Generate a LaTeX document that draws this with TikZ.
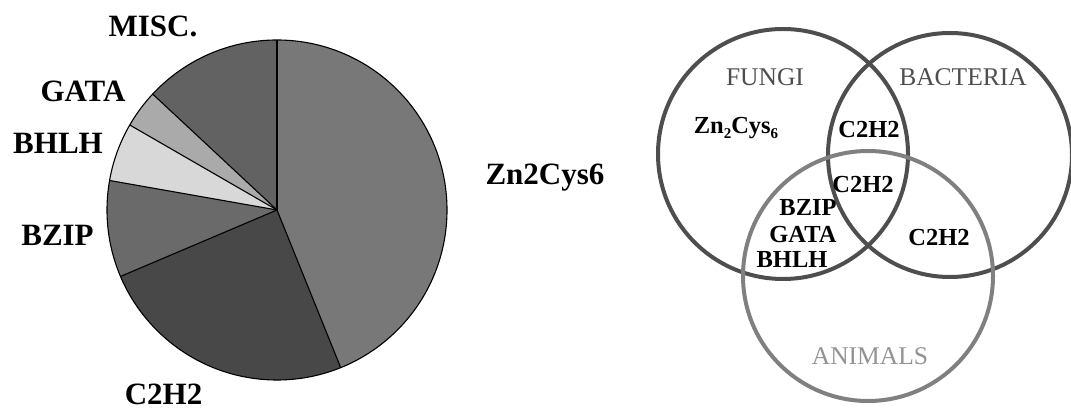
\documentclass[tikz,border=0pt]{standalone}
\usepackage{fontspec}
\setmainfont{Liberation Serif}
\definecolor{zncol}{RGB}{120,120,120}
\definecolor{misccol}{RGB}{98,98,98}
\definecolor{gatacol}{RGB}{170,170,170}
\definecolor{bhlhcol}{RGB}{216,216,216}
\definecolor{bzipcol}{RGB}{106,106,106}
\definecolor{ctwocol}{RGB}{72,72,72}
\definecolor{ringdark}{RGB}{78,78,78}
\definecolor{ringlight}{RGB}{128,128,128}
\newcommand{\lowsub}[1]{\raisebox{-0.38ex}{\fontsize{15}{15}\selectfont #1}}
\tikzset{
    pielabel/.style={anchor=base, inner sep=0pt, font=\fontsize{31}{36}\selectfont\bfseries},
    vennlabel/.style={anchor=base, inner sep=0pt, font=\fontsize{24.5}{28}\selectfont\bfseries},
    setlabel/.style={anchor=base, inner sep=0pt, font=\fontsize{25.5}{30}\selectfont},
    slice/.style={draw=black, line width=1.1pt, line join=round}
}
\begin{document}
\begin{tikzpicture}[x=1pt, y=1pt]
    \useasboundingbox (0, 0) rectangle (1071, 412);

    % pie chart
    \coordinate (pc) at (277, 202);
    \fill[zncol] (pc) -- ++(-68:170) arc (-68:90:170) -- cycle;
    \fill[misccol] (pc) -- ++(90:170) arc (90:137:170) -- cycle;
    \fill[gatacol] (pc) -- ++(137:170) arc (137:150:170) -- cycle;
    \fill[bhlhcol] (pc) -- ++(150:170) arc (150:170:170) -- cycle;
    \fill[bzipcol] (pc) -- ++(170:170) arc (170:203:170) -- cycle;
    \fill[ctwocol] (pc) -- ++(203:170) arc (203:292:170) -- cycle;
    \draw[slice] (pc) circle (170);
    \draw[slice] (pc) -- ++(90:170);
    \draw[slice] (pc) -- ++(137:170);
    \draw[slice] (pc) -- ++(150:170);
    \draw[slice] (pc) -- ++(170:170);
    \draw[slice] (pc) -- ++(203:170);
    \draw[slice] (pc) -- ++(-68:170);

    \node[pielabel] (misc) at (153, 375) {MISC.};
    \node[pielabel] (gata) at (83, 310) {GATA};
    \node[pielabel] (bhlh) at (58, 258) {BHLH};
    \node[pielabel] (bzip) at (57.5, 166) {BZIP};
    \node[pielabel] (ctwo) at (163.5, 7) {C2H2};
    \node[pielabel] (zn) at (545, 227) {Zn2Cys6};

    % venn diagram
    \coordinate (fungi) at (783, 258);
    \coordinate (bacteria) at (950, 257);
    \coordinate (animals) at (868, 136);
    \draw[ringdark, line width=4pt] (fungi) circle (125);
    \draw[ringdark, line width=4pt] (bacteria) circle (122);
    \draw[ringlight, line width=4pt] (animals) circle (125);

    \node[setlabel, text=ringdark] (fungilab) at (765, 326) {FUNGI};
    \node[setlabel, text=ringdark] (bactlab) at (963, 326) {BACTERIA};
    \node[setlabel, text=ringlight!85] (animlab) at (870, 47) {ANIMALS};

    \node[vennlabel] (vzn) at (736, 278) {Zn\lowsub{2}Cys\lowsub{6}};
    \node[vennlabel] (vfb) at (869, 274) {C2H2};
    \node[vennlabel] (vall) at (863, 219) {C2H2};
    \node[vennlabel] (vbzip) at (808, 196) {BZIP};
    \node[vennlabel] (vgata) at (803, 169) {GATA};
    \node[vennlabel] (vbhlh) at (792, 144) {BHLH};
    \node[vennlabel] (vba) at (939, 166) {C2H2};
\end{tikzpicture}
\end{document}
